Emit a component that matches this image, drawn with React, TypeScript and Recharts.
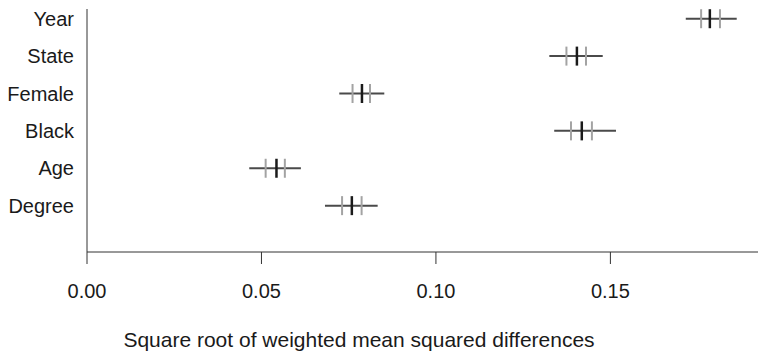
import { ScatterChart, Scatter, XAxis, YAxis, ErrorBar, Label } from "recharts";

const rows = ["Year", "State", "Female", "Black", "Age", "Degree"];
const estimate = [0.1785, 0.1404, 0.0788, 0.1418, 0.0543, 0.0759];
const innerLow = [0.176, 0.1374, 0.0761, 0.1387, 0.0512, 0.0731];
const innerHigh = [0.1814, 0.143, 0.0811, 0.1447, 0.0567, 0.0787];
const outerLow = [0.1716, 0.1325, 0.0723, 0.1339, 0.0465, 0.0682];
const outerHigh = [0.1862, 0.1478, 0.0852, 0.1516, 0.0613, 0.0833];
const xTicks = [0, 0.05, 0.1, 0.15];

const rowPos = (i: number) => rows.length - i;

const centerData = rows.map((name, i) => ({
  name,
  x: estimate[i],
  y: rowPos(i),
  err: [estimate[i] - outerLow[i], outerHigh[i] - estimate[i]],
}));
const lowData = rows.map((name, i) => ({ name, x: innerLow[i], y: rowPos(i) }));
const highData = rows.map((name, i) => ({ name, x: innerHigh[i], y: rowPos(i) }));

const font = "'Liberation Sans', Arial, Helvetica, sans-serif";

const tick = (color: string, w: number) => (props: any) => {
  const { cx, cy } = props;
  return <line x1={cx} x2={cx} y1={cy - 9.5} y2={cy + 9.5} stroke={color} strokeWidth={w} />;
};

export default function App() {
  return (
    <div style={{ position: "absolute", left: 0, top: 0, fontFamily: font }}>
      <ScatterChart width={758} height={355} margin={{ top: 9, right: 0, bottom: 0, left: 0 }}>
        <XAxis
          type="number"
          dataKey="x"
          domain={[0, 0.1923]}
          ticks={xTicks}
          allowDataOverflow
          tickFormatter={(v: number) => v.toFixed(2)}
          height={103}
          tickSize={12}
          tickMargin={20}
          stroke="#333"
          tick={{ fill: "#1a1a1a", fontSize: 20, fontFamily: font }}
        >
          <Label
            value="Square root of weighted mean squared differences"
            position="insideBottom"
            offset={8}
            dx={-63.5}
            fill="#1a1a1a"
            fontSize={21}
            fontFamily={font}
          />
        </XAxis>
        <YAxis
          type="number"
          dataKey="y"
          domain={[-0.24, 6.26]}
          ticks={[1, 2, 3, 4, 5, 6]}
          allowDataOverflow
          tickFormatter={(v: number) => rows[rows.length - v]}
          width={87}
          tickLine={false}
          tickSize={0}
          tickMargin={13}
          stroke="#333"
          tick={{ fill: "#1a1a1a", fontSize: 20, fontFamily: font }}
        />
        <Scatter data={lowData} shape={tick("#a3a3a3", 2)} isAnimationActive={false} />
        <Scatter data={highData} shape={tick("#a3a3a3", 2)} isAnimationActive={false} />
        <Scatter data={centerData} shape={tick("#1a1a1a", 2.5)} isAnimationActive={false}>
          <ErrorBar dataKey="err" direction="x" width={0} stroke="#4a4a4a" strokeWidth={2} />
        </Scatter>
      </ScatterChart>
    </div>
  );
}
